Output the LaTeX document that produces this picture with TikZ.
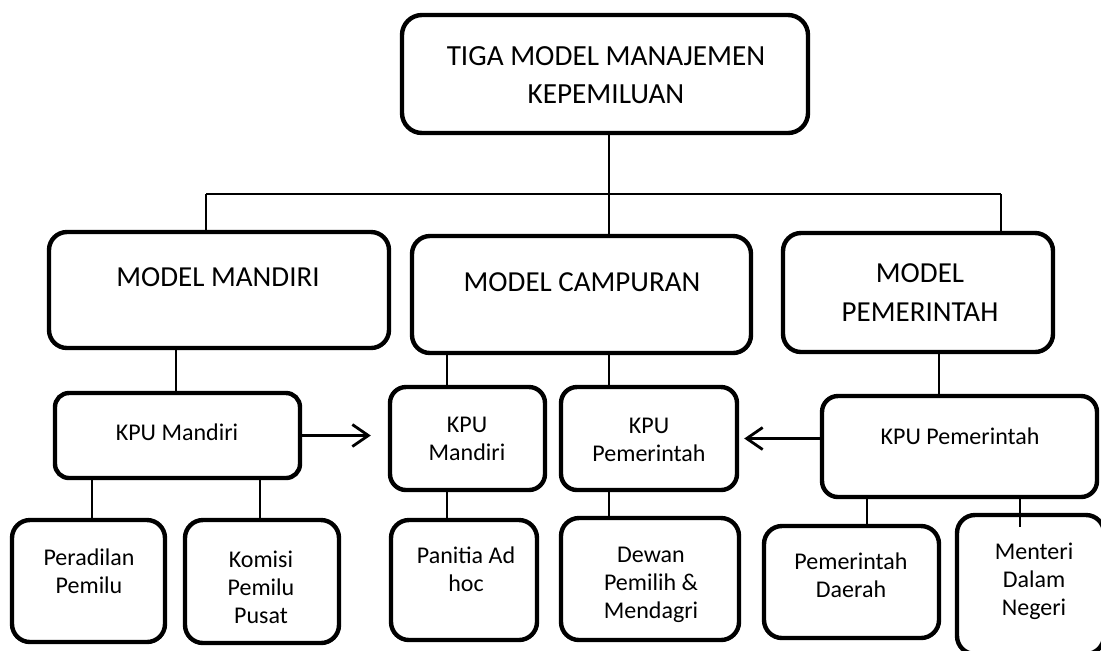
\documentclass[tikz,border=0pt]{standalone}
\usepackage{fontspec}
\setmainfont{Carlito}
\usetikzlibrary{fit,arrows.meta}
\begin{document}
\begin{tikzpicture}[x=0.5pt,y=-0.5pt,
  box/.style={draw, line width=2.2pt, rounded corners=9pt, inner sep=0pt},
  link/.style={line width=0.9pt},
  arr/.style={line width=1.4pt, -{Straight Barb[length=8pt,width=11pt,line width=1.4pt]}},
  ttop/.style={inner sep=0pt, align=center, font=\fontsize{14.6}{19}\selectfont},
  tmod/.style={inner sep=0pt, align=center, font=\fontsize{14.5}{19.5}\selectfont},
  tsm/.style={inner sep=0pt, align=center, font=\fontsize{12}{14}\selectfont}]
\useasboundingbox (0,0) rectangle (1101,650);

% boxes
\node[box, rounded corners=10pt, fit={(402,15) (808,133)}] (top) {};
\node[box, fit={(49,232) (389,348)}] (mm) {};
\node[box, fit={(412,236) (751,353)}] (mc) {};
\node[box, fit={(783,233) (1053,352)}] (mp) {};
\node[box, rounded corners=7pt, fit={(55,393) (300,478)}] (kpuA) {};
\node[box, rounded corners=8pt, fit={(390,387) (545,490)}] (kpuB) {};
\node[box, rounded corners=8pt, fit={(561,387) (737,490)}] (kpuC) {};
\node[box, rounded corners=8pt, fit={(822,396) (1097,497)}] (kpuD) {};
\node[box, fit={(12,520) (165,642)}] (per) {};
\node[box, fit={(185,520) (339,643)}] (kom) {};
\node[box, fit={(391,520) (537,640)}] (pan) {};
\node[box, fit={(561,518) (739,640)}] (dew) {};
\node[box, fit={(764,526) (939,638)}] (pd) {};
\node[box, fit={(957,515) (1104,654)}] (mdn) {};

% texts
\node[ttop] (t-top) at (606,75) {TIGA MODEL MANAJEMEN\\KEPEMILUAN};
\node[tmod] (t-mm) at (218,277) {MODEL MANDIRI};
\node[tmod] (t-mc) at (582,282) {MODEL CAMPURAN};
\node[tmod] (t-mp) at (920,292.5) {MODEL\\PEMERINTAH};
\node[tsm] (t-kpuA) at (177,432) {KPU Mandiri};
\node[tsm] (t-kpuB) at (467,439) {KPU\\Mandiri};
\node[tsm] (t-kpuC) at (649,440) {KPU\\Pemerintah};
\node[tsm] (t-kpuD) at (960,436) {KPU Pemerintah};
\node[tsm] (t-per) at (89,571) {Peradilan\\Pemilu};
\node[tsm] (t-kom) at (261,587) {Komisi\\Pemilu\\Pusat};
\node[tsm] (t-pan) at (466,569) {Panitia Ad\\hoc};
\node[tsm] (t-dew) at (651,585) {Dewan\\Pemilih \&\\Mendagri};
\node[tsm] (t-pd) at (851,575) {Pemerintah\\Daerah};
\node[tsm] (t-mdn) at (1034,581) {Menteri\\Dalam\\Negeri};

% guide positions of the connectors
\coordinate (hl) at (206,194);
\coordinate (hm) at (609,194);
\coordinate (hr) at (1001,194);
\coordinate (g1) at (176,0);
\coordinate (g2) at (447,0);
\coordinate (g3) at (609,0);
\coordinate (g4) at (939,0);
\coordinate (g5) at (92,0);
\coordinate (g6) at (260,0);
\coordinate (g7) at (867,0);
\coordinate (g8) at (1020,0);

% top level branches
\draw[link] (top.south -| hm) -- (mc.north -| hm);
\draw[link] (hl) -- (hr);
\draw[link] (hl) -- (hl |- mm.north);
\draw[link] (hr) -- (hr |- mp.north);

% model to KPU
\draw[link] (mm.south -| g1) -- (kpuA.north -| g1);
\draw[link] (mc.south -| g2) -- (kpuB.north -| g2);
\draw[link] (mc.south -| g3) -- (kpuC.north -| g3);
\draw[link] (mp.south -| g4) -- (kpuD.north -| g4);

% KPU to bodies
\draw[link] (kpuA.south -| g5) -- (per.north -| g5);
\draw[link] (kpuA.south -| g6) -- (kom.north -| g6);
\draw[link] (kpuB.south -| g2) -- (pan.north -| g2);
\draw[link] (kpuC.south -| g3) -- (dew.north -| g3);
\draw[link] (kpuD.south -| g7) -- ([yshift=-2pt]pd.north -| g7);
\draw[link] (kpuD.south -| g8) -- ([yshift=-7pt]mdn.north -| g8);

% arrows into the mixed model
\draw[arr, shorten >=8.5pt] (kpuA.east) -- (kpuA.east -| kpuB.west);
\draw[arr, shorten >=2.5pt] (kpuC.east -| kpuD.west) -- (kpuC.east);
\end{tikzpicture}
\end{document}
